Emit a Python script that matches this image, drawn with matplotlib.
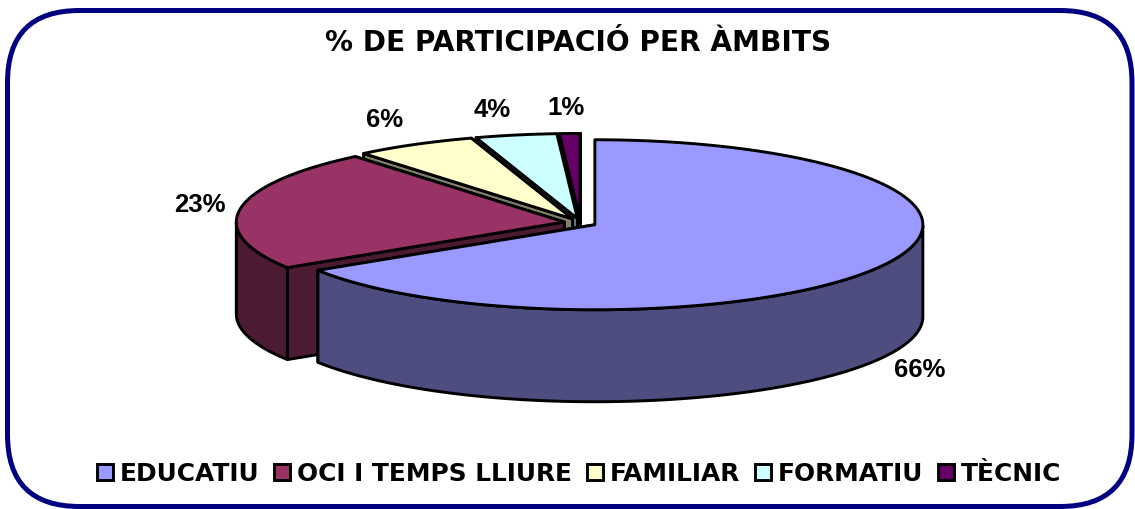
import numpy as np
import matplotlib
matplotlib.use("Agg")
import matplotlib.pyplot as plt
from matplotlib.patches import FancyBboxPatch, Polygon, Patch

title = "% DE PARTICIPACIÓ PER ÀMBITS"
categories = ["EDUCATIU", "OCI I TEMPS LLIURE", "FAMILIAR", "FORMATIU", "TÈCNIC"]
values = [66, 23, 6, 4, 1]
top_colors = ["#9999FF", "#993366", "#FFFFCC", "#CCFFFF", "#660066"]
side_colors = ["#4D4D80", "#4D1A33", "#80806A", "#668080", "#330033"]
label_xy = [(920, 370), (200, 205), (385, 120), (492, 110), (566, 108)]

CX, CY, RX, RY, DEPTH, EXPLODE = 580.5, 222.7, 328.0, 85.0, 92.0, 0.05
EDGE = dict(edgecolor="black", linewidth=2.1, joinstyle="round")

fig = plt.figure(figsize=(11.35, 5.09), dpi=100)
ax = fig.add_axes([0, 0, 1, 1])
ax.set_xlim(0, 1135)
ax.set_ylim(509, 0)
ax.axis("off")

R = 72
ax.add_patch(FancyBboxPatch((7.5 + R, 10.5 + R), 1124.5 - 2 * R, 496 - 2 * R,
                            boxstyle=f"round,pad={R},rounding_size={R}",
                            facecolor="white", edgecolor="#000080", linewidth=3.6))


def rim(theta):
    """Screen offset of a point on the pie rim, angle clockwise from 12 o'clock."""
    t = np.radians(theta)
    return RX * np.sin(t), -RY * np.cos(t)


fractions = np.array(values, dtype=float) / sum(values) * 360
starts = np.concatenate(([0], np.cumsum(fractions)[:-1]))
ends = starts + fractions

# painter's order: back slices first, the big front slice last
for i in [4, 3, 2, 1, 0]:
    a, b = starts[i], ends[i]
    ox, oy = rim((a + b) / 2)
    apex = np.array([CX + EXPLODE * ox, CY + EXPLODE * oy])
    th = np.linspace(a, b, 200)
    arc = np.column_stack([apex[0] + rim(th)[0], apex[1] + rim(th)[1]])
    down = np.array([0, DEPTH])
    # cut faces, the one further back first
    for p in sorted((arc[0], arc[-1]), key=lambda q: q[1]):
        ax.add_patch(Polygon([apex, p, p + down, apex + down], closed=True,
                             facecolor=side_colors[i], **EDGE))
    # outer wall, only the part facing the viewer
    vis = arc[(th >= 90) & (th <= 270)]
    if len(vis) > 1:
        ax.add_patch(Polygon(np.vstack([vis, vis[::-1] + down]), closed=True,
                             facecolor=side_colors[i], **EDGE))
    ax.add_patch(Polygon(np.vstack([apex, arc]), closed=True,
                         facecolor=top_colors[i], **EDGE))

for v, (x, y) in zip(values, label_xy):
    ax.text(x, y, f"{v}%", ha="center", va="center", fontsize=18.5,
            fontweight="bold", family="Liberation Sans", color="black")

ax.text(578, 43, title, ha="center", va="center", fontsize=20.2,
        fontweight="bold", family="DejaVu Sans", color="black")

handles = [Patch(facecolor=c, edgecolor="black", linewidth=2.1) for c in top_colors]
ax.legend(handles, categories, loc="center", bbox_to_anchor=(579 / 1135, 1 - 474 / 509),
          ncol=5, frameon=False,
          prop=dict(family="DejaVu Sans", weight="bold", size=17.9),
          handlelength=0.64, handleheight=0.64, handletextpad=0.28,
          columnspacing=0.6, borderpad=0, borderaxespad=0)

fig.savefig("out.png", dpi=100)
